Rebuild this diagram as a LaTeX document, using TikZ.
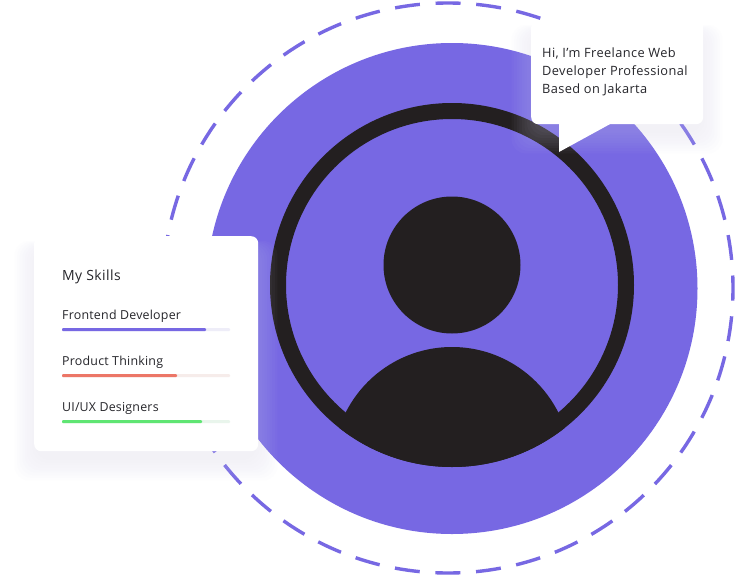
\documentclass[tikz,border=0pt]{standalone}
\usepackage{xcolor}
\usepackage{fontspec}
\setmainfont{Open Sans}
\definecolor{violet}{HTML}{7768E3}
\definecolor{ink}{HTML}{231F20}
\definecolor{label}{HTML}{26262B}
\definecolor{haze}{HTML}{D8D6F4}
\definecolor{coral}{HTML}{EC7667}
\definecolor{mint}{HTML}{5FE573}
\newfontfamily\bubblefont[LetterSpace=3]{Open Sans}
\newfontfamily\skillfont[LetterSpace=1.8]{Open Sans}
\tikzset{
  card/.style={fill=white, rounded corners=7pt, inner sep=0pt, anchor=north west},
  cardtext/.style={anchor=base west, inner sep=0pt, text=label},
  bubbletext/.style={cardtext, font=\bubblefont\fontsize{12.8}{14}\selectfont},
  skilltext/.style={cardtext, font=\skillfont\fontsize{12.4}{14}\selectfont},
  orbit/.style={draw=violet, line width=3.4pt, dash pattern=on 25pt off 15.7pt, dash phase=12.5pt}
}
\newcommand{\softshadow}[4]{%
  \foreach \s in {1,...,9}
    \fill[haze, opacity=0.03, rounded corners=14pt]
      (#1-2.6*\s+4,#2-\s+14) rectangle (#3+2.6*\s-4,#4+2.6*\s+6);}
\begin{document}
\begin{tikzpicture}[x=1pt,y=-1pt]
    \useasboundingbox (0,0) rectangle (737,576);
    \fill[white] (0,0) rectangle (737,576);
    % circles
    \coordinate (orbitc) at (448,288);
    \coordinate (discc) at (452,288.5);
    \coordinate (ringc) at (452,285);
    \draw[orbit] (orbitc) circle (285pt);
    \fill[violet] (discc) circle (245.5pt);
    \draw[ink, line width=16pt] (ringc) circle (174pt);
    % person
    \fill[ink] (452,265) circle (68.5pt);
    \begin{scope}
      \clip (ringc) circle (182pt);
      \fill[ink] (452,466) circle (119pt);
    \end{scope}
    % speech bubble
    \softshadow{531}{20}{703}{124}
    \node[card, minimum width=172pt, minimum height=104pt] (bubble) at (531,20) {};
    \coordinate (tailtop) at (559,123);
    \coordinate (tailtip) at (559,152);
    \coordinate (tailend) at (612,123);
    \fill[white] (tailtop) -- (tailtip) -- (tailend) -- cycle;
    \node[bubbletext] (hello) at (542,57) {Hi, I’m Freelance Web};
    \node[bubbletext] (role) at (542,75) {Developer Professional};
    \node[bubbletext] (place) at (542,93) {Based on Jakarta};
    % skills card
    \softshadow{34}{236}{258}{451}
    \node[card, minimum width=224pt, minimum height=215pt] (skills) at (34,236) {};
    \node[cardtext, font=\bubblefont\fontsize{14}{16}\selectfont] (title) at (62,280.5) {My Skills};
    \foreach \name/\txt/\base/\upto/\col/\back in {
        front/Frontend Developer/319/206/violet/EEEDF8,
        product/Product Thinking/365/177/coral/F6ECEA,
        design/UI\slash UX Designers/411/202/mint/E9F5EC} {
      \definecolor{track}{HTML}{\back}
      \node[skilltext] (\name) at (62,\base) {\txt};
      \fill[track, rounded corners=1pt] (62,\base+9) rectangle (230,\base+12);
      \fill[\col, rounded corners=1pt] (62,\base+9) rectangle (\upto,\base+12);
    }
  \end{tikzpicture}
\end{document}
